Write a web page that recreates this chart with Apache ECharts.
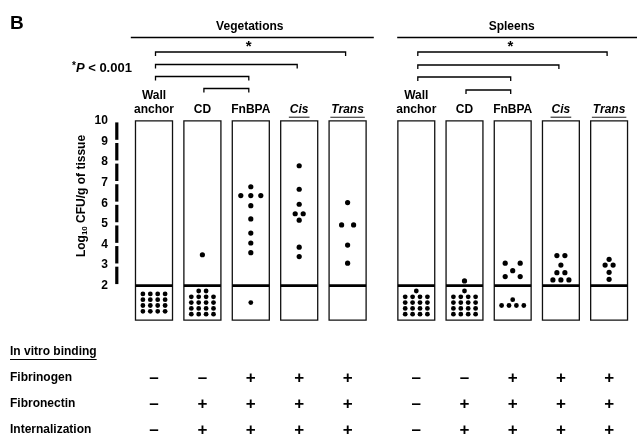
<!DOCTYPE html>
<html><head><meta charset="utf-8">
<script src="https://cdn.jsdelivr.net/npm/echarts@6/dist/echarts.min.js"></script>
<style>html,body{margin:0;padding:0;background:#fff}#c{width:637px;height:436px}</style>
</head><body><div id="c"></div>
<script>
// ---------------- data ----------------
const panelTitles = ['Vegetations', 'Spleens'];
const strains = ['Wall\nanchor', 'CD', 'FnBPA', 'Cis', 'Trans'];
const italicStrains = [false, false, false, true, true];
const yTicks = [2, 3, 4, 5, 6, 7, 8, 9, 10];
const detectionLimit = 2;
// log10 CFU/g values above the detection limit (one point per animal)
const vegWallAnchor = [];
const vegCD = [3.5];
const vegFnBPA = [6.8, 6.37, 6.37, 6.37, 5.88, 5.24, 4.55, 4.07, 3.6];
const vegCis = [7.82, 6.68, 5.95, 5.49, 5.49, 5.18, 3.87, 3.41];
const vegTrans = [6.03, 4.95, 4.95, 3.97, 3.09];
const splWallAnchor = [];
const splCD = [2.23];
const splFnBPA = [3.09, 3.09, 2.73, 2.44, 2.44];
const splCis = [3.46, 3.46, 3.0, 2.63, 2.63, 2.28, 2.28, 2.28];
const splTrans = [3.28, 3.0, 3.0, 2.65, 2.31];
// animals below the detection limit
const vegBelowLimit = [16, 18, 1, 0, 0];
const splBelowLimit = [17, 17, 5, 0, 0];
// significant comparisons (strain index pairs)
const comparisons = [[0, 4], [0, 3], [0, 2], [1, 2]];
const significanceMark = '*';
const pValueNote = ['*', 'P', ' < 0.001'];
const tableTitle = 'In vitro binding';
const tableRows = ['Fibrinogen', 'Fibronectin', 'Internalization'];
const fibrinogen = ['–', '–', '+', '+', '+', '–', '–', '+', '+', '+'];
const fibronectin = ['–', '+', '+', '+', '+', '–', '+', '+', '+', '+'];
const internalization = ['–', '+', '+', '+', '+', '–', '+', '+', '+', '+'];
const panelLetter = 'B';
const yAxisTitle = ['Log', '10', ' CFU/g of tissue'];

// ---------------- layout / style ----------------
const FONT = '"Liberation Sans", Arial, Helvetica, sans-serif';
const boxBottomValue = 0.33;
const gridBoxes = [
  { left: 129.8, top: 120.8, width: 242, height: 206.1 },
  { left: 392.2, top: 120.8, width: 241, height: 206.1 }
];
const panels = [
  { above: [vegWallAnchor, vegCD, vegFnBPA, vegCis, vegTrans], below: vegBelowLimit,
    spread: [10, 10, 10, 8, 12], bracketY: [52, 64.5, 76.5, 88.5], offset: 0 },
  { above: [splWallAnchor, splCD, splFnBPA, splCis, splTrans], below: splBelowLimit,
    spread: [10, 10, 15, 8, 8], bracketY: [52, 65, 77, 90], offset: 5 }
];
const rowY = [378, 404, 430];
const tableRowArrays = [fibrinogen, fibronectin, internalization];

const ctx = document.createElement('canvas').getContext('2d');
function textWidth(t, f) { ctx.font = f; return ctx.measureText(t).width; }

function swarm(vals, spacing) {
  const out = [];
  let k = 0;
  while (k < vals.length) {
    let n = 1;
    while (k + n < vals.length && vals[k + n] === vals[k]) n++;
    for (let j = 0; j < n; j++) out.push({ v: vals[k], dx: (j - (n - 1) / 2) * spacing });
    k += n;
  }
  return out;
}

const chart = echarts.init(document.getElementById('c'), null, { renderer: 'canvas' });

const grid = gridBoxes.map(g => ({ left: g.left, top: g.top, width: g.width, height: g.height, containLabel: false }));
const xAxis = gridBoxes.map((g, p) => ({
  gridIndex: p, type: 'category', data: strains, position: 'top', boundaryGap: true,
  axisLine: { show: false }, axisTick: { show: false }, splitLine: { show: false },
  axisLabel: {
    interval: 0, margin: 4, fontFamily: FONT, fontSize: 12, fontWeight: 'bold', color: '#000', lineHeight: 14,
    formatter: (v, i) => italicStrains[i] ? '{it|' + v + '}' : v,
    rich: { it: { fontStyle: 'italic', fontWeight: 'bold', fontSize: 12, fontFamily: FONT, color: '#000', lineHeight: 14 } }
  }
}));
const yAxis = gridBoxes.map((g, p) => ({
  gridIndex: p, type: 'value', min: 0, max: 10, interval: 1,
  axisLine: { show: false }, axisTick: { show: false }, splitLine: { show: false },
  axisLabel: {
    show: p === 0, margin: 22, fontFamily: FONT, fontSize: 12, fontWeight: 'bold', color: '#000',
    formatter: v => yTicks.indexOf(v) >= 0 ? String(v) : ''
  }
}));

const series = [];
panels.forEach((P, p) => {
  // boxes with detection-limit line and underlines for italic labels
  series.push({
    type: 'custom', xAxisIndex: p, yAxisIndex: p, z: 1, silent: true,
    data: strains.map((s, i) => [i, 10]),
    renderItem(params, api) {
      const i = api.value(0);
      const top = api.coord([i, 10]);
      const bot = api.coord([i, boxBottomValue]);
      const lim = api.coord([i, detectionLimit]);
      const bw = api.size([1, 0])[0] * 0.765;
      const ch = [
        { type: 'rect', shape: { x: top[0] - bw / 2, y: top[1], width: bw, height: bot[1] - top[1] },
          style: { fill: '#fff', stroke: '#111', lineWidth: 1.3 } },
        { type: 'line', shape: { x1: top[0] - bw / 2, y1: lim[1], x2: top[0] + bw / 2, y2: lim[1] },
          style: { stroke: '#000', lineWidth: 2.8 } }
      ];
      if (italicStrains[i]) {
        const w = textWidth(strains[i], 'italic bold 12px ' + FONT);
        ch.push({ type: 'line', shape: { x1: top[0] - w / 2 - 1, y1: top[1] - 3.6, x2: top[0] + w / 2 + 1, y2: top[1] - 3.6 },
          style: { stroke: '#222', lineWidth: 1.1 } });
      }
      return { type: 'group', children: ch };
    }
  });
  // dots above detection limit
  const pts = [];
  P.above.forEach((vals, i) => {
    swarm(vals, P.spread[i]).forEach(d => pts.push({ value: [i, d.v], symbolOffset: [d.dx, 0] }));
  });
  series.push({
    type: 'scatter', xAxisIndex: p, yAxisIndex: p, z: 3, symbol: 'circle', symbolSize: 5.2,
    itemStyle: { color: '#000', opacity: 1 }, data: pts, silent: true
  });
  // clusters below detection limit
  series.push({
    type: 'custom', xAxisIndex: p, yAxisIndex: p, z: 3, silent: true,
    data: P.below.map((n, i) => [i, n]),
    encode: { x: 0 },
    renderItem(params, api) {
      const i = api.value(0), n = api.value(1);
      if (!n) return null;
      const lim = api.coord([i, detectionLimit]);
      const bot = api.coord([i, boxBottomValue]);
      const cx = lim[0], cy = (lim[1] + bot[1]) / 2 - 0.3;
      const perRow = 4, colGap = 7.4, rowGap = 5.8;
      const full = Math.floor(n / perRow), rem = n % perRow;
      const rows = full + (rem ? 1 : 0);
      const ch = [];
      for (let r = 0; r < rows; r++) {
        const cnt = r < full ? perRow : rem;
        const y = cy + ((rows - 1) / 2 - r) * rowGap;
        for (let c = 0; c < cnt; c++) {
          ch.push({ type: 'circle', shape: { cx: cx + (c - (cnt - 1) / 2) * colGap, cy: y, r: 2.4 }, style: { fill: '#000' } });
        }
      }
      return { type: 'group', children: ch };
    }
  });
  // significance brackets
  series.push({
    type: 'custom', xAxisIndex: p, yAxisIndex: p, z: 2, silent: true,
    data: comparisons.map(c => [c[0], c[1]]),
    encode: { x: 0 },
    renderItem(params, api) {
      const a = api.value(0), b = api.value(1), k = params.dataIndex;
      const x1 = api.coord([a, 10])[0] + 1.5, x2 = api.coord([b, 10])[0] - 2;
      const y = P.bracketY[k];
      const ch = [{ type: 'polyline', shape: { points: [[x1, y + 4], [x1, y], [x2, y], [x2, y + 4]] },
        style: { stroke: '#000', lineWidth: 1.3, fill: null } }];
      if (k === 0) {
        ch.push({ type: 'text', x: (x1 + x2) / 2 - 2, y: y - 5, style: { text: significanceMark, font: 'bold 15px ' + FONT, fill: '#000', align: 'center', verticalAlign: 'middle' } });
      }
      return { type: 'group', children: ch };
    }
  });
  // in-vitro binding table symbols
  series.push({
    type: 'custom', xAxisIndex: p, yAxisIndex: p, z: 2, silent: true,
    data: strains.map((s, i) => [i, 0]),
    renderItem(params, api) {
      const i = api.value(0);
      const x = api.coord([i, 0])[0];
      return { type: 'group', children: tableRowArrays.map((arr, r) => ({
        type: 'text', x: x, y: rowY[r],
        style: { text: arr[P.offset + i], font: 'bold 17px ' + FONT, fill: '#000', align: 'center', verticalAlign: 'middle' }
      })) };
    }
  });
});
// dashed y axis (vegetation panel)
series.push({
  type: 'custom', xAxisIndex: 0, yAxisIndex: 0, z: 2, silent: true,
  data: yTicks.slice(0, -1).map((t, k) => [0, t, yTicks[k + 1]]),
  encode: { x: 0, y: 1 },
  renderItem(params, api) {
    const x = params.coordSys.x - 13;
    const yLow = api.coord([0, api.value(1)])[1];
    const yHigh = api.coord([0, api.value(2)])[1];
    return { type: 'line', shape: { x1: x, y1: yHigh + 1.6, x2: x, y2: yLow - 1.6 }, style: { stroke: '#000', lineWidth: 3.2 } };
  }
});

const graphic = [
  { type: 'text', x: 10, y: 24, style: { text: panelLetter, font: 'bold 19px ' + FONT, fill: '#000', align: 'left', verticalAlign: 'middle' } },
  { type: 'text', x: 72, y: 68, style: {
      text: '{s|' + pValueNote[0] + '}{p|' + pValueNote[1] + '}{t|' + pValueNote[2] + '}',
      align: 'left', verticalAlign: 'middle',
      rich: {
        s: { fontSize: 10, fontWeight: 'bold', fontFamily: FONT, fill: '#000', verticalAlign: 'top', lineHeight: 14 },
        p: { fontSize: 13, fontWeight: 'bold', fontStyle: 'italic', fontFamily: FONT, fill: '#000', lineHeight: 14 },
        t: { fontSize: 13, fontWeight: 'bold', fontFamily: FONT, fill: '#000', lineHeight: 14 }
      } } },
  { type: 'text', x: 82, y: 196, rotation: Math.PI / 2, style: {
      text: '{a|' + yAxisTitle[0] + '}{s|' + yAxisTitle[1] + '}{a|' + yAxisTitle[2] + '}',
      align: 'center', verticalAlign: 'middle',
      rich: {
        a: { fontSize: 12, fontWeight: 'bold', fontFamily: FONT, fill: '#000', lineHeight: 14 },
        s: { fontSize: 8, fontWeight: 'bold', fontFamily: FONT, fill: '#000', lineHeight: 14, verticalAlign: 'bottom' }
      } } },
  { type: 'text', x: 10, y: 352, style: { text: tableTitle, font: 'bold 12px ' + FONT, fill: '#000', align: 'left', verticalAlign: 'middle' } },
  { type: 'line', shape: { x1: 10, y1: 359.5, x2: 10 + textWidth(tableTitle, 'bold 12px ' + FONT), y2: 359.5 }, style: { stroke: '#000', lineWidth: 1 } }
];
tableRows.forEach((t, r) => graphic.push({ type: 'text', x: 10, y: rowY[r], style: { text: t, font: 'bold 12px ' + FONT, fill: '#000', align: 'left', verticalAlign: 'middle' } }));
panelTitles.forEach((t, p) => {
  const g = gridBoxes[p];
  graphic.push({ type: 'text', x: g.left + g.width / 2 - 1, y: 27, style: { text: t, font: 'bold 12px ' + FONT, fill: '#000', align: 'center', verticalAlign: 'middle' } });
  graphic.push({ type: 'line', shape: { x1: g.left + 1 + p * 4, y1: 37.5, x2: g.left + g.width + 2 + p * 2, y2: 37.5 }, style: { stroke: '#000', lineWidth: 1.3 } });
});

chart.setOption({
  animation: false,
  backgroundColor: '#fff',
  grid, xAxis, yAxis, series, graphic
});
</script>
</body></html>
